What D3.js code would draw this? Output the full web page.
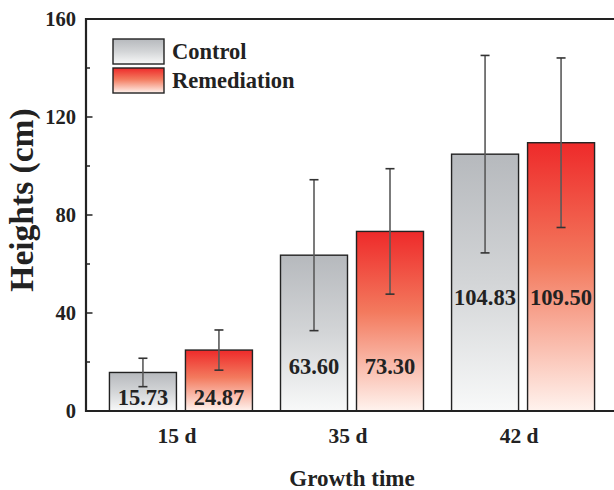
<!DOCTYPE html>
<html lang="en">
<head>
  <meta charset="UTF-8">
  <title>Heights by growth time</title>
  <script src="https://d3js.org/d3.v7.min.js"></script>
</head>

<style>
  body {
    margin: 0;
    padding: 0;
    background: #fff;
  }

  svg {
    display: block;
    font-family: "Liberation Serif", "Times New Roman", serif;
    font-weight: bold;
  }
</style>

<body>
<div class="chart"></div>

<script>
  // data
  var days = ['15 d', '35 d', '42 d'];
  var controlMean = [15.73, 63.60, 104.83];
  var controlSd = [5.8, 30.8, 40.3];
  var remediationMean = [24.87, 73.30, 109.50];
  var remediationSd = [8.2, 25.6, 34.6];
  // where the value label sits inside each bar pair, in cm
  var labelAt = [5.5, 18.5, 46.5];
  var yTicks = [0, 40, 80, 120, 160];

  var width = 614, height = 490;
  var plotLeft = 86, plotTop = 19, plotBottom = 411, plotRight = 618;

  var svg = d3.select('.chart').append('svg')
    .attr('width', width)
    .attr('height', height);

  var defs = svg.append('defs');

  /** vertical gradients, one per series, stretched over each bar */
  function gradient(id, stops) {
    var g = defs.append('linearGradient')
      .attr('id', id)
      .attr('x1', 0).attr('y1', 0)
      .attr('x2', 0).attr('y2', 1);
    stops.forEach(function (s) {
      g.append('stop').attr('offset', s[0]).attr('stop-color', s[1]);
    });
  }
  gradient('gray', [[0, '#b6b9bd'], [0.5, '#d3d5d7'], [1, '#f8f9f9']]);
  gradient('red', [[0, '#ee2a2a'], [0.45, '#f37a5e'], [1, '#fff3ee']]);

  var x = d3.scalePoint()
    .domain(days)
    .range([plotLeft, plotRight])
    .padding(0.555);

  var y = d3.scaleLinear()
    .domain([0, 160])
    .range([plotBottom, plotTop]);

  var barW = 67, gap = 4.5;

  var series = [
    { name: 'Control', mean: controlMean, sd: controlSd, fill: 'url(#gray)', dx: -gap - barW },
    { name: 'Remediation', mean: remediationMean, sd: remediationSd, fill: 'url(#red)', dx: gap }
  ];

  series.forEach(function (s) {
    var rows = days.map(function (d, i) {
      return { day: d, mean: s.mean[i], sd: s.sd[i], label: labelAt[i] };
    });
    var g = svg.append('g');

    g.selectAll('rect')
      .data(rows)
      .enter()
      .append('rect')
      .attr('x', function (d) { return x(d.day) + s.dx; })
      .attr('y', function (d) { return y(d.mean); })
      .attr('width', barW)
      .attr('height', function (d) { return y(0) - y(d.mean); })
      .attr('fill', s.fill)
      .attr('stroke', '#222')
      .attr('stroke-width', 1.4);

    // error bars
    var cx = function (d) { return x(d.day) + s.dx + barW / 2; };
    g.selectAll('line.err')
      .data(rows)
      .enter()
      .append('line')
      .attr('class', 'err')
      .attr('x1', cx).attr('x2', cx)
      .attr('y1', function (d) { return y(d.mean + d.sd); })
      .attr('y2', function (d) { return y(d.mean - d.sd); })
      .attr('stroke', '#5a5a5a')
      .attr('stroke-width', 1.6);
    [1, -1].forEach(function (sign) {
      g.selectAll('line.cap' + (sign > 0 ? 'hi' : 'lo'))
        .data(rows)
        .enter()
        .append('line')
        .attr('class', 'cap' + (sign > 0 ? 'hi' : 'lo'))
        .attr('x1', function (d) { return cx(d) - 4.5; })
        .attr('x2', function (d) { return cx(d) + 4.5; })
        .attr('y1', function (d) { return y(d.mean + sign * d.sd); })
        .attr('y2', function (d) { return y(d.mean + sign * d.sd); })
        .attr('stroke', '#333')
        .attr('stroke-width', 1.6);
    });

    // value labels
    g.selectAll('text')
      .data(rows)
      .enter()
      .append('text')
      .attr('x', cx)
      .attr('y', function (d) { return y(d.label); })
      .attr('dy', '0.35em')
      .attr('text-anchor', 'middle')
      .attr('font-size', 22.5)
      .attr('fill', '#222')
      .text(function (d) { return d.mean.toFixed(2); });
  });

  // y axis with inward ticks, minor every 20
  var yAxis = svg.append('g');
  yAxis.selectAll('line.minor')
    .data(d3.range(20, 160, 40))
    .enter()
    .append('line')
    .attr('class', 'minor')
    .attr('x1', plotLeft).attr('x2', plotLeft + 4)
    .attr('y1', y).attr('y2', y)
    .attr('stroke', '#222').attr('stroke-width', 1.5);
  yAxis.selectAll('line.major')
    .data(yTicks)
    .enter()
    .append('line')
    .attr('class', 'major')
    .attr('x1', plotLeft).attr('x2', plotLeft + 6.5)
    .attr('y1', y).attr('y2', y)
    .attr('stroke', '#222').attr('stroke-width', 1.5);
  yAxis.selectAll('text')
    .data(yTicks)
    .enter()
    .append('text')
    .attr('x', plotLeft - 10)
    .attr('y', y)
    .attr('dy', '0.35em')
    .attr('text-anchor', 'end')
    .attr('font-size', 20.5)
    .attr('fill', '#222')
    .text(function (d) { return d; });

  // frame: left, bottom, top
  svg.append('path')
    .attr('d', 'M' + plotRight + ',' + plotTop + 'H' + plotLeft + 'V' + plotBottom + 'H' + plotRight)
    .attr('fill', 'none')
    .attr('stroke', '#222')
    .attr('stroke-width', 2.2);

  // x labels
  svg.append('g').selectAll('text')
    .data(days)
    .enter()
    .append('text')
    .attr('x', function (d) { return x(d) - 4; })
    .attr('y', 443)
    .attr('text-anchor', 'middle')
    .attr('font-size', 21.5)
    .attr('fill', '#222')
    .text(function (d) { return d; });

  svg.append('text')
    .attr('x', (plotLeft + plotRight) / 2)
    .attr('y', 486)
    .attr('text-anchor', 'middle')
    .attr('font-size', 23)
    .attr('fill', '#222')
    .text('Growth time');

  svg.append('text')
    .attr('transform', 'translate(33,' + 200 + ') rotate(-90)')
    .attr('text-anchor', 'middle')
    .attr('font-size', 33.5)
    .attr('fill', '#222')
    .text('Heights (cm)');

  // legend
  var legend = svg.append('g').attr('transform', 'translate(113,39)');
  legend.selectAll('rect')
    .data(series)
    .enter()
    .append('rect')
    .attr('x', 0)
    .attr('y', function (d, i) { return i * 29; })
    .attr('width', 51)
    .attr('height', 25)
    .attr('fill', function (d) { return d.fill; })
    .attr('stroke', '#222')
    .attr('stroke-width', 1.4);
  legend.selectAll('text')
    .data(series)
    .enter()
    .append('text')
    .attr('x', 59)
    .attr('y', function (d, i) { return i * 29 + 12.5; })
    .attr('dy', '0.35em')
    .attr('font-size', 22.5)
    .attr('fill', '#222')
    .text(function (d) { return d.name; });
</script>
</body>
</html>
